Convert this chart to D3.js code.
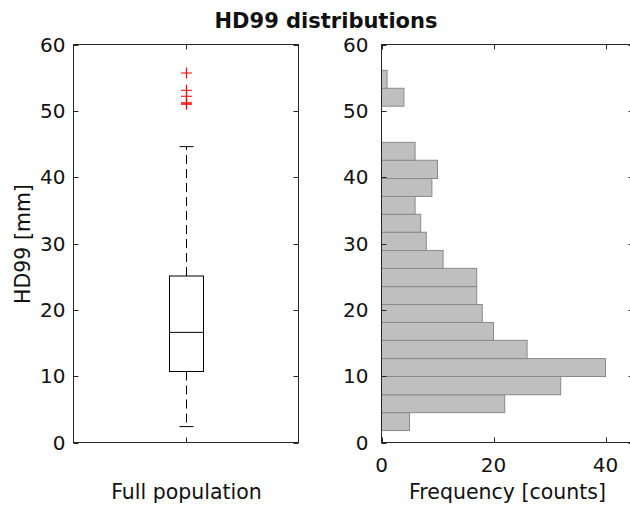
<!DOCTYPE html>
<html><head><meta charset="utf-8">
<script src="https://cdn.jsdelivr.net/npm/d3@7"></script>
<style>body{margin:0;background:#fff}svg{display:block}text{font-family:"DejaVu Sans",sans-serif;fill:#111}</style>
</head><body>
<script>
// ---- data ----
const title = "HD99 distributions";
const boxCategory = ["Full population"];
const whiskerLow = [2.4];
const q1 = [10.7];
const median = [16.6];
const q3 = [25.1];
const whiskerHigh = [44.6];
const outliers = [55.7, 53.1, 52.2, 51.2, 51.0];
const yTicks = [0, 10, 20, 30, 40, 50, 60];
const binEdges = [1.8, 4.5, 7.2, 9.95, 12.65, 15.4, 18.1, 20.8, 23.5, 26.25, 28.95, 31.7, 34.4, 37.1, 39.8, 42.55, 45.25, 47.95, 50.7, 53.4, 56.1];
const binCounts = [5, 22, 32, 40, 26, 20, 18, 17, 17, 11, 8, 7, 6, 9, 10, 6, 0, 0, 4, 1];
const freqTicks = [0, 20, 40];

(function () {
const W = 630, H = 506;
const svg = d3.select("body").append("svg").attr("width", W).attr("height", H);
const axisColor = "#262626";
const yTop = 44.5, yBottom = 442.5;
const y = d3.scaleLinear().domain([0, 60]).range([yBottom, yTop]);
const tickLen = 5;
const tickFont = "20px", labelFont = "20.5px";

svg.append("text").attr("x", 326).attr("y", 28).attr("text-anchor", "middle")
  .style("font-weight", "bold").style("font-size", "21px").text(title);

// ---------- left: boxplot ----------
const L = {x0: 73.5, x1: 298.5};
const xb = d3.scaleBand().domain(boxCategory).range([L.x0, L.x1]);
const gL = svg.append("g");
gL.append("rect").attr("x", L.x0).attr("y", yTop).attr("width", L.x1 - L.x0).attr("height", yBottom - yTop)
  .attr("fill", "none").attr("stroke", axisColor).attr("stroke-width", 1);
yTicks.forEach(t => {
  const yy = Math.round(y(t)) + 0.5;
  gL.append("line").attr("x1", L.x0).attr("x2", L.x0 + tickLen).attr("y1", yy).attr("y2", yy).attr("stroke", axisColor);
  gL.append("line").attr("x1", L.x1).attr("x2", L.x1 - tickLen).attr("y1", yy).attr("y2", yy).attr("stroke", axisColor);
  gL.append("text").attr("x", L.x0 - 8).attr("y", y(t)).attr("dy", "0.36em").attr("text-anchor", "end")
    .style("font-size", tickFont).text(t);
});
boxCategory.forEach((c, i) => {
  const cx = Math.round(xb(c) + xb.bandwidth() / 2) + 0.5;
  gL.append("line").attr("x1", cx).attr("x2", cx).attr("y1", yBottom).attr("y2", yBottom - tickLen).attr("stroke", axisColor);
  gL.append("line").attr("x1", cx).attr("x2", cx).attr("y1", yTop).attr("y2", yTop + tickLen).attr("stroke", axisColor);
  gL.append("text").attr("x", cx).attr("y", 499).attr("text-anchor", "middle").style("font-size", labelFont).text(c);
  const halfBox = 17, halfCap = 7;
  gL.append("line").attr("x1", cx).attr("x2", cx).attr("y1", y(q3[i])).attr("y2", y(whiskerHigh[i]))
    .attr("stroke", "#000").attr("stroke-dasharray", "9,5");
  gL.append("line").attr("x1", cx).attr("x2", cx).attr("y1", y(q1[i])).attr("y2", y(whiskerLow[i]))
    .attr("stroke", "#000").attr("stroke-dasharray", "9,5");
  [whiskerHigh[i], whiskerLow[i]].forEach(v => {
    gL.append("line").attr("x1", cx - halfCap).attr("x2", cx + halfCap).attr("y1", y(v)).attr("y2", y(v)).attr("stroke", "#000");
  });
  gL.append("rect").attr("x", cx - halfBox).attr("y", y(q3[i])).attr("width", 2 * halfBox).attr("height", y(q1[i]) - y(q3[i]))
    .attr("fill", "none").attr("stroke", "#000");
  gL.append("line").attr("x1", cx - halfBox).attr("x2", cx + halfBox).attr("y1", y(median[i])).attr("y2", y(median[i])).attr("stroke", "#000");
  outliers.forEach(v => {
    const yy = y(v);
    gL.append("path").attr("d", `M${cx - 5.5},${yy}H${cx + 5.5}M${cx},${yy - 5.5}V${yy + 5.5}`)
      .attr("stroke", "#ff0000").attr("stroke-width", 1.2).attr("fill", "none");
  });
});
svg.append("text").attr("transform", `translate(30,244) rotate(-90)`).attr("text-anchor", "middle")
  .style("font-size", labelFont).text("HD99 [mm]");

// ---------- right: histogram ----------
const R = {x0: 381.5, x1: 633.5};
const xf = d3.scaleLinear().domain([0, 45]).range([R.x0, R.x1]);
const gR = svg.append("g");
gR.selectAll("rect.bar").data(binCounts.map((c, i) => ({c, lo: binEdges[i], hi: binEdges[i + 1]})).filter(d => d.c > 0))
  .enter().append("rect").attr("class", "bar")
  .attr("x", xf(0)).attr("y", d => y(d.hi)).attr("width", d => xf(d.c) - xf(0)).attr("height", d => y(d.lo) - y(d.hi))
  .attr("fill", "#bfbfbf").attr("stroke", "#8a8a8a").attr("stroke-width", 1);
gR.append("rect").attr("x", R.x0).attr("y", yTop).attr("width", R.x1 - R.x0).attr("height", yBottom - yTop)
  .attr("fill", "none").attr("stroke", axisColor).attr("stroke-width", 1);
yTicks.forEach(t => {
  const yy = Math.round(y(t)) + 0.5;
  gR.append("line").attr("x1", R.x0).attr("x2", R.x0 + tickLen).attr("y1", yy).attr("y2", yy).attr("stroke", axisColor);
  gR.append("line").attr("x1", R.x1).attr("x2", R.x1 - tickLen).attr("y1", yy).attr("y2", yy).attr("stroke", axisColor);
  gR.append("text").attr("x", R.x0 - 13).attr("y", y(t)).attr("dy", "0.36em").attr("text-anchor", "end")
    .style("font-size", tickFont).text(t);
});
freqTicks.forEach(t => {
  const xx = Math.round(xf(t)) + 0.5;
  gR.append("line").attr("x1", xx).attr("x2", xx).attr("y1", yBottom).attr("y2", yBottom - tickLen).attr("stroke", axisColor);
  gR.append("line").attr("x1", xx).attr("x2", xx).attr("y1", yTop).attr("y2", yTop + tickLen).attr("stroke", axisColor);
  gR.append("text").attr("x", xf(t)).attr("y", 472).attr("text-anchor", "middle").style("font-size", tickFont).text(t);
});
gR.append("text").attr("x", (R.x0 + R.x1) / 2).attr("y", 499).attr("text-anchor", "middle")
  .style("font-size", labelFont).text("Frequency [counts]");
})();
</script>
</body></html>
